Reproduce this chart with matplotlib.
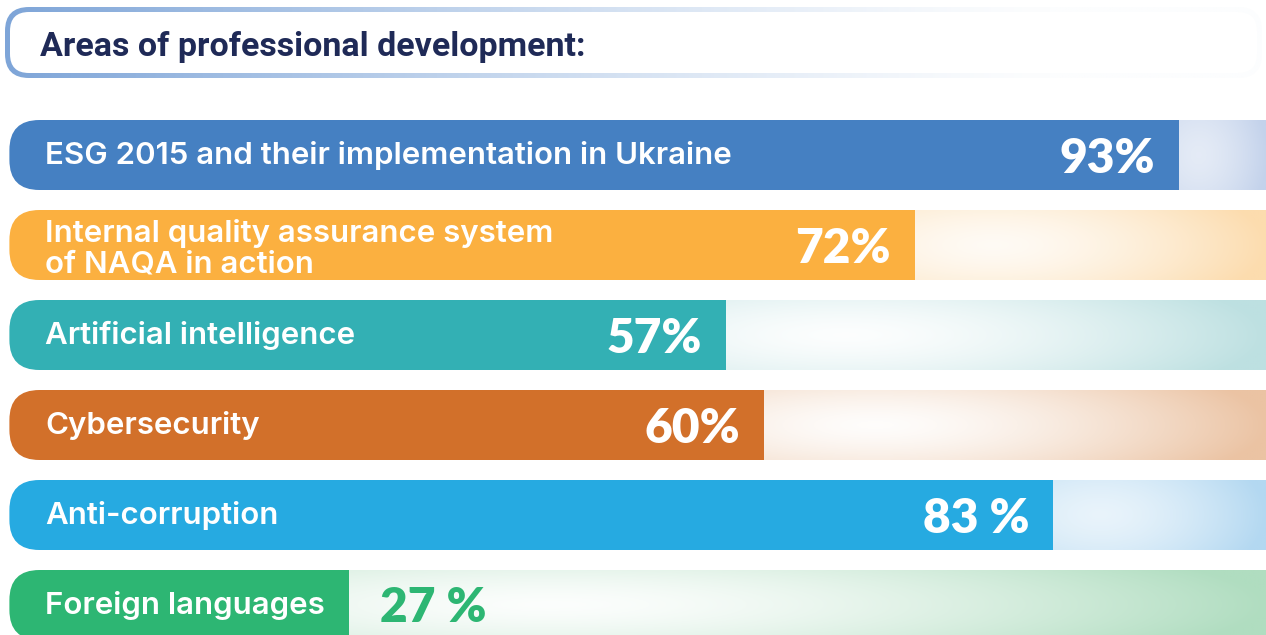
import numpy as np
import matplotlib.pyplot as plt
from matplotlib.patches import FancyBboxPatch
from matplotlib.colors import to_rgb

title = "Areas of professional development:"

labels = [
    "ESG 2015 and their implementation in Ukraine",
    "Internal quality assurance system\nof NAQA in action",
    "Artificial intelligence",
    "Cybersecurity",
    "Anti-corruption",
    "Foreign languages",
]
values = [93, 72, 57, 60, 83, 27]
value_text = ["93%", "72%", "57%", "60%", "83 %", "27 %"]

bar_colors = ["#4580C2", "#FBB040", "#33B0B4", "#D2702A", "#26AAE1", "#2DB673"]
track_colors = ["#C3D2EB", "#FCDCAE", "#BDE0E1", "#EBC3A3", "#B3D8F1", "#B0DDC0"]

W, H = 1266, 635
fig = plt.figure(figsize=(W / 100, H / 100), dpi=100)

# pixel geometry of the value axis: 0% at x=9.4px, 100% at x=1267px
x0_px, x100_px = 9.4, 1267.0
px_per_unit = (x100_px - x0_px) / 100
row_pitch = 90.0
first_row_px = 155.0
bar_h = 70 / row_pitch
radius_px = 30

ax = fig.add_axes([x0_px / W, 0, (x100_px - x0_px) / W, 1])
ax.axis("off")
ylim = ((H - first_row_px) / row_pitch, -first_row_px / row_pitch)

aspect = px_per_unit / row_pitch
r_units = radius_px / px_per_unit


def track_image(color, length, ncols=300, nrows=40):
    # light spot a bit right of the bar end, tint grows toward the right edge
    u = np.linspace(0, 1, ncols)[None, :]
    v = np.linspace(-1, 1, nrows)[:, None]
    d = np.sqrt(((u - 0.22) / 0.78) ** 2 + (v / 2.4) ** 2)
    smin = np.clip(0.55 - 1.5 * length / 100, 0.04, 0.5)
    s = smin + (1 - smin) * np.clip(d, 0, 1) ** 1.5
    c = np.array(to_rgb(color))
    return (1 - s[..., None]) + s[..., None] * c


for i, (lab, v, vt, bc, tc) in enumerate(zip(labels, values, value_text, bar_colors, track_colors)):
    shape = FancyBboxPatch((0, i - bar_h / 2), 110, bar_h,
                           boxstyle=f"round,pad=0,rounding_size={r_units}",
                           mutation_aspect=aspect, facecolor="none", edgecolor="none")
    ax.add_patch(shape)
    im = ax.imshow(track_image(tc, 100 - v), extent=[v, 100, i + bar_h / 2, i - bar_h / 2],
                   aspect="auto", interpolation="bilinear", zorder=1)
    im.set_clip_path(shape)
    bars = ax.barh(i, v, height=bar_h, left=0, color=bc, zorder=2)
    for b in bars:
        b.set_clip_path(shape)

    # va="baseline" aligns the last line of the label
    ybase = i + 0.305 if "\n" in lab else i + 0.1
    ax.text(2.83, ybase, lab, color="white", fontsize=22.5, fontfamily="Inter",
            fontweight="semibold", va="baseline", ha="left", linespacing=1.1, zorder=3)

    if v > 40:
        ax.text(v - 1.91, i + 0.2, vt, color="white", fontsize=34.5, fontfamily="Lato",
                fontweight="heavy", va="baseline", ha="right", zorder=3)
    else:
        ax.text(v + 2.47, i + 0.19, vt, color=bc, fontsize=34.5, fontfamily="Lato",
                fontweight="heavy", va="baseline", ha="left", zorder=3)

ax.set_xlim(0, 100)
ax.set_ylim(*ylim)

# title box in pixel coordinates
tax = fig.add_axes([0, 0, 1, 1])
tax.set_xlim(0, W)
tax.set_ylim(H, 0)
tax.axis("off")
tax.patch.set_alpha(0)

outer = FancyBboxPatch((5, 7), 1257, 71, boxstyle="round,pad=0,rounding_size=24",
                       facecolor="none", edgecolor="none")
tax.add_patch(outer)
gx = np.linspace(0, 1, 400)[None, :]
border_c = np.array(to_rgb("#7EA5D8"))
mix = np.clip(1 - gx / 0.83, 0, 1) ** 1.3
grad = (1 - mix[..., None]) * np.array(to_rgb("#FCFDFE")) + mix[..., None] * border_c
gim = tax.imshow(np.repeat(grad, 2, axis=0), extent=[5, 1262, 78, 7], aspect="auto",
                 interpolation="bilinear")
gim.set_clip_path(outer)
inner = FancyBboxPatch((10, 12), 1247, 61, boxstyle="round,pad=0,rounding_size=19",
                       facecolor="white", edgecolor="none")
tax.add_patch(inner)
tax.text(40, 56, title, color="#1F2A57", fontsize=24.5, fontfamily="Roboto",
         fontweight="bold", va="baseline", ha="left")
tax.set_xlim(0, W)
tax.set_ylim(H, 0)

fig.savefig("out.png", dpi=100)
